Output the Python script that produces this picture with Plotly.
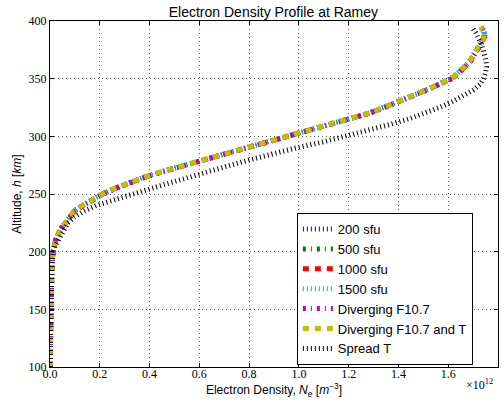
import plotly.graph_objects as go

# Altitude grid [km]
altitude_km = [100, 120, 140, 160, 180, 190, 200, 205, 210, 215, 220, 225, 230, 235,
               240, 245, 250, 255, 260, 265, 270, 275, 280, 285, 290, 295, 300, 305,
               310, 315, 320, 325, 330, 335, 340, 345, 350, 355, 360, 365, 370, 375,
               380, 385, 390, 395]

# Electron density in units of 1e12 m^-3
ne_200sfu = [0.000, 0.001, 0.002, 0.003, 0.005, 0.008, 0.012, 0.016, 0.022, 0.032, 0.044, 0.062,
             0.078, 0.096, 0.130, 0.170, 0.210, 0.262, 0.322, 0.385, 0.460, 0.543, 0.630, 0.710,
             0.790, 0.868, 0.960, 1.030, 1.122, 1.210, 1.280, 1.340, 1.400, 1.455, 1.510, 1.560,
             1.612, 1.640, 1.666, 1.686, 1.700, 1.715, 1.728, 1.742, 1.744, 1.730]
ne_500sfu = [0.000, 0.001, 0.002, 0.003, 0.005, 0.008, 0.012, 0.016, 0.022, 0.032, 0.044, 0.062,
             0.078, 0.097, 0.131, 0.171, 0.211, 0.263, 0.323, 0.386, 0.461, 0.544, 0.631, 0.711,
             0.791, 0.869, 0.961, 1.031, 1.123, 1.211, 1.281, 1.341, 1.401, 1.456, 1.511, 1.561,
             1.613, 1.641, 1.667, 1.687, 1.701, 1.716, 1.729, 1.743, 1.745, 1.731]
ne_1000sfu = [0.000, 0.001, 0.002, 0.003, 0.005, 0.008, 0.012, 0.016, 0.023, 0.033, 0.045, 0.063,
              0.079, 0.098, 0.132, 0.172, 0.212, 0.264, 0.324, 0.387, 0.462, 0.545, 0.632, 0.712,
              0.792, 0.870, 0.962, 1.032, 1.124, 1.212, 1.282, 1.342, 1.402, 1.457, 1.512, 1.562,
              1.614, 1.642, 1.668, 1.688, 1.702, 1.717, 1.730, 1.744, 1.746, 1.732]
ne_1500sfu = [0.000, 0.001, 0.002, 0.003, 0.005, 0.008, 0.012, 0.016, 0.022, 0.031, 0.043, 0.061,
              0.077, 0.095, 0.128, 0.168, 0.208, 0.260, 0.320, 0.383, 0.458, 0.541, 0.628, 0.708,
              0.788, 0.866, 0.958, 1.028, 1.120, 1.208, 1.278, 1.338, 1.398, 1.453, 1.508, 1.558,
              1.610, 1.638, 1.664, 1.684, 1.698, 1.713, 1.727, 1.741, 1.743, 1.729]
ne_diverging_f107 = [0.000, 0.001, 0.002, 0.003, 0.005, 0.008, 0.013, 0.017, 0.024, 0.034, 0.046, 0.064,
                     0.080, 0.099, 0.134, 0.174, 0.214, 0.266, 0.326, 0.389, 0.464, 0.547, 0.634, 0.714,
                     0.794, 0.872, 0.964, 1.034, 1.126, 1.214, 1.284, 1.344, 1.404, 1.459, 1.514, 1.564,
                     1.616, 1.644, 1.670, 1.690, 1.704, 1.719, 1.732, 1.746, 1.748, 1.734]
ne_diverging_f107_t = [0.000, 0.001, 0.002, 0.003, 0.005, 0.008, 0.012, 0.016, 0.022, 0.032, 0.044, 0.062,
                       0.078, 0.096, 0.130, 0.170, 0.210, 0.262, 0.322, 0.385, 0.460, 0.543, 0.630, 0.710,
                       0.790, 0.868, 0.960, 1.030, 1.122, 1.210, 1.280, 1.340, 1.400, 1.455, 1.510, 1.560,
                       1.612, 1.640, 1.666, 1.686, 1.700, 1.715, 1.728, 1.742, 1.744, 1.730]
ne_spread_t = [0.000, 0.001, 0.002, 0.003, 0.005, 0.008, 0.013, 0.020, 0.034, 0.047, 0.060, 0.072,
               0.098, 0.135, 0.185, 0.255, 0.330, 0.410, 0.488, 0.563, 0.650, 0.725, 0.810, 0.895,
               0.990, 1.095, 1.190, 1.285, 1.360, 1.440, 1.510, 1.565, 1.615, 1.660, 1.700, 1.728,
               1.742, 1.750, 1.754, 1.752, 1.748, 1.741, 1.733, 1.723, 1.710, 1.694]

series_names = ["200 sfu", "500 sfu", "1000 sfu", "1500 sfu",
                "Diverging F10.7", "Diverging F10.7 and T", "Spread T"]
series_values = [ne_200sfu, ne_500sfu, ne_1000sfu, ne_1500sfu,
                 ne_diverging_f107, ne_diverging_f107_t, ne_spread_t]
series_colors = ["#0000ff", "#008000", "#ff0000", "#00bfbf", "#bf00bf", "#bfbf00", "#000000"]
series_dashes = ["1px,3px", "3px,5px,1px,5px", "6px,6px", "1px,3px",
                 "3px,5px,1px,5px", "6px,6px", "1px,3px"]

x_tick_vals = [0.0, 0.2, 0.4, 0.6, 0.8, 1.0, 1.2, 1.4, 1.6, 1.8]
x_tick_text = ["0.0", "0.2", "0.4", "0.6", "0.8", "1.0", "1.2", "1.4", "1.6", "1.8"]
y_tick_vals = [100, 150, 200, 250, 300, 350, 400]

fig = go.Figure()
for name, vals, color, dash in zip(series_names, series_values, series_colors, series_dashes):
    fig.add_trace(go.Scatter(x=vals, y=altitude_km, mode="lines", name=name,
                             line=dict(color=color, width=5, dash=dash)))

sans = "Liberation Sans, Arial, sans-serif"
serif = "Liberation Serif, Times New Roman, serif"

axis_common = dict(showline=True, linecolor="black", linewidth=1, mirror="ticks",
                   ticks="inside", ticklen=4, tickcolor="black", tickwidth=1,
                   showgrid=True, gridcolor="#666666", griddash="1px,3px", gridwidth=1,
                   zeroline=False, tickfont=dict(family=serif, size=12, color="black"))

fig.update_layout(
    width=504, height=404,
    margin=dict(l=50, r=6, t=21, b=37),
    paper_bgcolor="white", plot_bgcolor="white",
    title=dict(text="Electron Density Profile at Ramey", x=0.5425, xanchor="center",
               y=1 - 12 / 404, yanchor="middle",
               font=dict(family=sans, size=14, color="black")),
    xaxis=dict(range=[0, 1.8], tickvals=x_tick_vals, ticktext=x_tick_text,
               ticklabelstandoff=-4,
               title=dict(text="Electron Density, <i>N<sub>e</sub></i> [<i>m</i><sup>−3</sup>]",
                          font=dict(family=sans, size=12, color="black"), standoff=0),
               **axis_common),
    yaxis=dict(range=[100, 400], tickvals=y_tick_vals,
               title=dict(text="Altitude, <i>h</i> [<i>km</i>]",
                          font=dict(family=sans, size=12, color="black"), standoff=4),
               **axis_common),
    legend=dict(x=0.551, y=0.445, xanchor="left", yanchor="top",
                bgcolor="white", bordercolor="black", borderwidth=1,
                font=dict(family=sans, size=13, color="black")),
    showlegend=True,
)

fig.add_annotation(text="×10<sup>12</sup>", xref="paper", yref="paper",
                   x=0.993, y=-0.022, xanchor="right", yanchor="top", showarrow=False,
                   font=dict(family=serif, size=12, color="black"))

fig.write_html("out.html", config={"displayModeBar": False},
               post_script="document.body.style.margin='0px';document.body.style.padding='0px';")
